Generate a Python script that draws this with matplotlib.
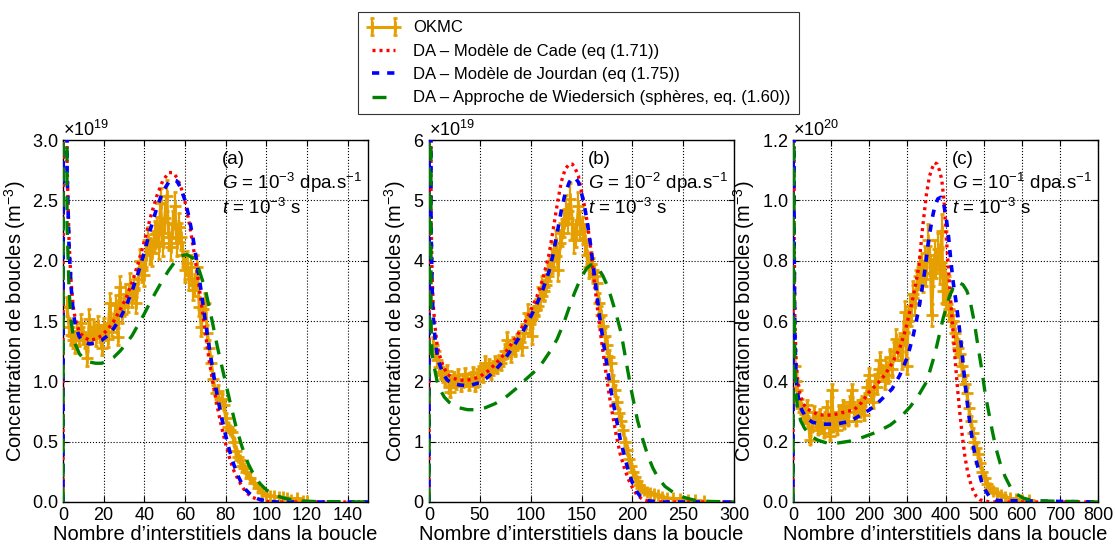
import matplotlib
matplotlib.use("Agg")
import matplotlib.pyplot as plt
from matplotlib.ticker import ScalarFormatter, MultipleLocator
import numpy as np

plt.rcParams['font.family'] = ['Liberation Sans', 'DejaVu Sans']
plt.rcParams['mathtext.fontset'] = 'custom'
plt.rcParams['mathtext.rm'] = 'Liberation Sans'
plt.rcParams['mathtext.it'] = 'Liberation Sans:italic'
plt.rcParams['mathtext.bf'] = 'Liberation Sans:bold'

# ---------------- Panel (a) : G = 1e-3 dpa/s, values in 1e19 m^-3 ----------------
a_okmc_n = [2, 3, 4, 5, 6, 7, 8, 9, 10, 11, 12, 13, 14, 15, 16, 17, 18, 19, 20, 21,
            22, 23, 24, 25, 26, 27, 28, 29, 30, 31, 32, 33, 34, 35, 36, 37, 38, 39, 40, 41,
            42, 43, 44, 45, 46, 47, 48, 49, 50, 51, 52, 53, 54, 55, 56, 57, 58, 59, 60, 61,
            62, 63, 64, 65, 66, 67, 68, 69, 70, 71, 72, 73, 74, 75, 76, 77, 78, 79, 80, 81,
            82, 83, 84, 85, 86, 87, 88, 89, 90, 92, 94, 96, 98, 100, 102, 104, 106, 108, 110, 112,
            115, 118, 120]
a_okmc_c = [1.62, 1.45, 1.38, 1.34, 1.30, 1.42, 1.36, 1.48, 1.38, 1.34, 1.19, 1.52, 1.38, 1.42, 1.36, 1.47, 1.40, 1.28, 1.45, 1.41,
            1.35, 1.65, 1.45, 1.48, 1.63, 1.37, 1.78, 1.56, 1.62, 1.72, 1.66, 1.81, 1.70, 1.77, 1.65, 1.85, 2.00, 1.92, 1.88, 2.05,
            2.17, 2.08, 2.06, 2.22, 2.25, 2.12, 2.48, 2.15, 2.35, 2.54, 2.20, 2.11, 2.30, 2.45, 2.15, 2.28, 2.20, 2.05, 1.92, 1.98,
            1.85, 1.95, 1.76, 1.80, 1.95, 1.62, 1.45, 1.60, 1.65, 1.40, 1.28, 1.15, 1.02, 0.90, 0.92, 0.82, 0.85, 0.80, 0.70, 0.62,
            0.60, 0.58, 0.50, 0.42, 0.37, 0.35, 0.30, 0.28, 0.25, 0.20, 0.16, 0.12, 0.08, 0.06, 0.05, 0.05, 0.04, 0.04, 0.03, 0.02,
            0.03, 0.01, 0.005]

a_cade_n = [0, 1, 2, 3, 4, 5, 6, 8, 10, 13, 16, 19, 22, 25, 28, 31, 34, 37, 40, 43,
            46, 49, 52, 54, 56, 58, 60, 62, 64, 66, 68, 70, 72, 74, 76, 78, 80, 82, 84, 86,
            88, 90, 93, 96, 100, 105, 150]
a_cade_c = [0, 20, 2.8, 2.15, 1.82, 1.62, 1.52, 1.41, 1.37, 1.34, 1.35, 1.38, 1.43, 1.50, 1.59, 1.69, 1.82, 1.98, 2.16, 2.36,
            2.53, 2.66, 2.73, 2.73, 2.69, 2.61, 2.49, 2.32, 2.12, 1.90, 1.65, 1.40, 1.16, 0.96, 0.78, 0.62, 0.48, 0.36, 0.26, 0.19,
            0.13, 0.08, 0.04, 0.02, 0.005, 0.0, 0.0]

a_jourdan_n = a_cade_n
a_jourdan_c = [0, 20, 2.75, 2.1, 1.78, 1.58, 1.47, 1.37, 1.33, 1.31, 1.32, 1.34, 1.38, 1.44, 1.52, 1.62, 1.75, 1.90, 2.07, 2.26,
               2.43, 2.57, 2.65, 2.67, 2.66, 2.60, 2.50, 2.36, 2.18, 1.97, 1.74, 1.50, 1.27, 1.06, 0.87, 0.70, 0.55, 0.42, 0.31, 0.22,
               0.15, 0.10, 0.05, 0.025, 0.008, 0.0, 0.0]

a_wied_n = [0, 1, 2, 3, 4, 5, 6, 8, 10, 13, 16, 19, 22, 25, 28, 31, 34, 37, 40, 43,
            46, 49, 52, 55, 58, 61, 64, 67, 70, 73, 76, 79, 82, 85, 88, 91, 94, 97, 100, 104,
            108, 112, 118, 125, 150]
a_wied_c = [0, 20, 2.3, 1.75, 1.5, 1.38, 1.31, 1.23, 1.19, 1.16, 1.15, 1.15, 1.17, 1.20, 1.25, 1.31, 1.38, 1.47, 1.56, 1.66,
            1.75, 1.84, 1.92, 1.99, 2.04, 2.05, 2.02, 1.92, 1.76, 1.53, 1.28, 1.06, 0.84, 0.63, 0.46, 0.32, 0.22, 0.15, 0.10, 0.06,
            0.035, 0.02, 0.008, 0.003, 0.0]

# ---------------- Panel (b) : G = 1e-2 dpa/s, values in 1e19 m^-3 ----------------
b_okmc_n = [4, 6, 8, 10, 12, 14, 16, 18, 20, 21, 23, 25, 27, 29, 31, 33, 35, 37, 39, 41,
            43, 45, 47, 49, 51, 53, 55, 57, 59, 61, 63, 65, 67, 69, 71, 73, 75, 77, 79, 81,
            83, 85, 87, 89, 91, 93, 95, 97, 99, 101, 103, 105, 107, 109, 111, 113, 115, 117, 119, 121,
            123, 125, 127, 129, 131, 133, 135, 137, 139, 141, 143, 145, 147, 149, 151, 153, 155, 157, 159, 161,
            163, 165, 167, 169, 171, 173, 175, 177, 179, 181, 183, 185, 187, 189, 191, 193, 195, 197, 199, 201,
            203, 205, 207, 209, 211, 214, 217, 221, 225, 229, 234, 240, 247, 255, 262, 270]
b_okmc_c = [2.6, 2.5, 2.35, 2.24, 2.15, 2.1, 2.05, 2.17, 1.9, 1.83, 2.0, 2.05, 1.98, 2.1, 1.93, 2.0, 2.12, 2.02, 1.95, 2.05,
            2.13, 1.93, 2.0, 2.15, 2.2, 2.1, 2.3, 2.2, 2.25, 2.15, 2.22, 2.3, 2.25, 2.32, 2.3, 2.38, 2.5, 2.69, 2.55, 2.45,
            2.6, 2.55, 2.65, 2.7, 2.57, 2.8, 2.95, 3.13, 3.0, 2.75, 3.1, 3.2, 3.25, 3.35, 3.56, 3.5, 3.6, 3.75, 3.85, 4.0,
            4.1, 4.3, 3.85, 4.3, 4.46, 4.62, 4.84, 4.7, 5.03, 4.6, 4.34, 4.45, 4.9, 4.6, 4.5, 4.35, 4.1, 3.9, 3.95, 3.85,
            3.75, 3.63, 3.3, 3.1, 2.92, 2.75, 2.6, 2.4, 2.3, 2.0, 1.85, 1.65, 1.47, 1.35, 1.2, 1.0, 0.86, 0.72, 0.6, 0.5,
            0.42, 0.35, 0.28, 0.23, 0.2, 0.17, 0.15, 0.13, 0.11, 0.09, 0.07, 0.06, 0.05, 0.035, 0.025, 0.015]

b_cade_n = [0, 1, 2, 3, 4, 6, 8, 10, 14, 18, 24, 30, 36, 42, 50, 58, 66, 74, 82, 90,
            98, 106, 112, 118, 122, 126, 130, 134, 138, 141, 144, 147, 150, 153, 156, 159, 162, 165, 168, 171,
            174, 177, 180, 184, 188, 192, 196, 200, 204, 208, 212, 216, 222, 230, 300]
b_cade_c = [0, 30, 4.8, 3.8, 3.3, 2.9, 2.6, 2.45, 2.25, 2.12, 2.05, 2.02, 2.02, 2.03, 2.08, 2.17, 2.3, 2.45, 2.64, 2.85,
            3.1, 3.4, 3.7, 4.1, 4.5, 4.92, 5.3, 5.52, 5.6, 5.6, 5.52, 5.4, 5.15, 4.9, 4.6, 4.2, 3.75, 3.3, 2.9, 2.5,
            2.15, 1.8, 1.5, 1.12, 0.8, 0.57, 0.38, 0.24, 0.13, 0.07, 0.03, 0.015, 0.005, 0.0, 0.0]

b_jourdan_n = b_cade_n
b_jourdan_c = [0, 30, 4.6, 3.6, 3.1, 2.7, 2.45, 2.3, 2.12, 2.02, 1.96, 1.94, 1.93, 1.94, 1.98, 2.07, 2.2, 2.36, 2.55, 2.76,
               3.0, 3.28, 3.52, 3.82, 4.1, 4.45, 4.82, 5.12, 5.3, 5.37, 5.37, 5.3, 5.12, 4.9, 4.6, 4.25, 3.85, 3.45, 3.05, 2.7,
               2.38, 2.05, 1.75, 1.4, 1.05, 0.78, 0.52, 0.32, 0.18, 0.09, 0.04, 0.02, 0.008, 0.0, 0.0]

b_wied_n = [0, 1, 2, 3, 5, 8, 11, 15, 20, 25, 30, 38, 46, 55, 65, 75, 85, 95, 105, 112,
            120, 126, 132, 137, 143, 149, 155, 159, 163, 167, 171, 175, 179, 184, 189, 194, 199, 205, 210, 215,
            220, 225, 232, 241, 250, 261, 275, 300]
b_wied_c = [0, 30, 3.0, 2.45, 2.25, 2.0, 1.86, 1.74, 1.65, 1.59, 1.56, 1.53, 1.53, 1.56, 1.63, 1.73, 1.87, 2.03, 2.18, 2.32,
            2.52, 2.7, 2.94, 3.18, 3.46, 3.7, 3.87, 3.93, 3.93, 3.86, 3.75, 3.6, 3.4, 3.12, 2.8, 2.32, 1.85, 1.36, 1.05, 0.78,
            0.57, 0.41, 0.26, 0.15, 0.08, 0.03, 0.01, 0.0]

# ---------------- Panel (c) : G = 1e-1 dpa/s, values in 1e20 m^-3 ----------------
c_okmc_n = [5, 8, 10, 14, 18, 22, 27, 32, 36, 40, 45, 50, 55, 60, 65, 70, 75, 80, 85, 89,
            94, 98, 102, 106, 110, 115, 120, 125, 130, 135, 140, 145, 150, 155, 160, 165, 170, 175, 180, 185,
            190, 195, 200, 205, 210, 215, 220, 225, 229, 234, 240, 245, 250, 255, 260, 265, 270, 275, 280, 285,
            290, 294, 298, 302, 306, 310, 315, 320, 325, 330, 333, 338, 342, 346, 350, 355, 360, 364, 368, 372,
            376, 380, 385, 390, 394, 398, 401, 405, 410, 415, 420, 425, 430, 434, 438, 442, 446, 450, 456, 461,
            466, 471, 476, 481, 486, 491, 497, 503, 510, 517, 525, 535, 545, 555, 570, 585, 600, 620]
c_okmc_c = [0.45, 0.4, 0.37, 0.34, 0.32, 0.31, 0.3, 0.28, 0.32, 0.27, 0.205, 0.25, 0.3, 0.27, 0.24, 0.29, 0.25, 0.23, 0.28, 0.315,
            0.26, 0.22, 0.37, 0.25, 0.28, 0.24, 0.3, 0.27, 0.32, 0.26, 0.3, 0.27, 0.33, 0.37, 0.3, 0.27, 0.32, 0.3, 0.33, 0.29,
            0.34, 0.38, 0.42, 0.36, 0.33, 0.4, 0.38, 0.44, 0.47, 0.43, 0.4, 0.45, 0.42, 0.48, 0.44, 0.5, 0.54, 0.5, 0.52, 0.47,
            0.56, 0.63, 0.45, 0.6, 0.65, 0.62, 0.69, 0.66, 0.72, 0.75, 0.77, 0.78, 0.74, 0.8, 0.76, 0.87, 0.8, 0.62, 0.76, 0.82,
            0.79, 0.84, 0.77, 0.9, 0.7, 0.75, 0.66, 0.7, 0.64, 0.62, 0.6, 0.56, 0.53, 0.51, 0.49, 0.45, 0.42, 0.39, 0.36, 0.31,
            0.27, 0.23, 0.2, 0.18, 0.16, 0.13, 0.1, 0.08, 0.06, 0.045, 0.035, 0.03, 0.022, 0.018, 0.012, 0.01, 0.008, 0.006]

c_cade_n = [0, 1, 3, 5, 8, 12, 18, 25, 35, 50, 65, 80, 100, 120, 140, 160, 180, 200, 220, 240,
            260, 280, 295, 310, 320, 330, 340, 350, 358, 366, 372, 378, 384, 390, 396, 402, 408, 414, 420, 426,
            432, 438, 444, 451, 458, 465, 472, 480, 490, 500, 520, 800]
c_cade_c = [0, 3, 0.9, 0.6, 0.47, 0.41, 0.36, 0.33, 0.31, 0.3, 0.29, 0.288, 0.288, 0.293, 0.3, 0.305, 0.33, 0.365, 0.39, 0.42,
            0.46, 0.51, 0.57, 0.65, 0.71, 0.78, 0.91, 1.02, 1.08, 1.11, 1.125, 1.12, 1.1, 1.07, 1.0, 0.88, 0.77, 0.66, 0.56, 0.46,
            0.37, 0.29, 0.22, 0.15, 0.1, 0.066, 0.04, 0.02, 0.008, 0.003, 0.0, 0.0]

c_jourdan_n = [0, 1, 3, 5, 8, 12, 18, 25, 35, 50, 65, 80, 100, 120, 140, 160, 180, 200, 220, 240,
               260, 280, 300, 315, 330, 345, 355, 365, 372, 380, 388, 395, 402, 408, 414, 420, 428, 436, 443, 450,
               457, 464, 471, 478, 486, 495, 504, 515, 535, 800]
c_jourdan_c = [0, 3, 0.85, 0.55, 0.42, 0.36, 0.32, 0.3, 0.28, 0.265, 0.26, 0.258, 0.258, 0.26, 0.265, 0.275, 0.29, 0.305, 0.325, 0.35,
               0.375, 0.42, 0.48, 0.55, 0.64, 0.76, 0.86, 0.94, 0.98, 1.005, 1.01, 0.99, 0.94, 0.88, 0.8, 0.73, 0.66, 0.58, 0.5, 0.41,
               0.33, 0.26, 0.2, 0.15, 0.11, 0.065, 0.04, 0.018, 0.005, 0.0]

c_wied_n = [0, 1, 3, 5, 8, 12, 20, 30, 45, 65, 85, 100, 120, 150, 184, 220, 255, 285, 307, 330,
            351, 372, 394, 410, 420, 432, 446, 456, 464, 475, 486, 495, 504, 513, 522, 532, 543, 556, 570, 585,
            604, 630, 800]
c_wied_c = [0, 3, 0.7, 0.45, 0.36, 0.31, 0.27, 0.245, 0.22, 0.205, 0.197, 0.195, 0.196, 0.202, 0.215, 0.232, 0.255, 0.285, 0.315, 0.355,
            0.4, 0.49, 0.61, 0.68, 0.71, 0.73, 0.72, 0.7, 0.67, 0.6, 0.51, 0.44, 0.36, 0.3, 0.24, 0.18, 0.13, 0.085, 0.05, 0.027,
            0.013, 0.004, 0.0]

panel_labels = ['(a)', '(b)', '(c)']
G_exponents = ['-3', '-2', '-1']
scales = [1e19, 1e19, 1e20]
xmax = [150, 300, 800]
ymax = [3.0, 6.0, 1.2]
ystep = [0.5, 1.0, 0.2]
xstep = [20, 50, 100]
rel_err = [0.05, 0.05, 0.06]

legend_labels = ['OKMC',
                 'DA – Modèle de Cade (eq (1.71))',
                 'DA – Modèle de Jourdan (eq (1.75))',
                 'DA – Approche de Wiedersich (sphères, eq. (1.60))']

panels = [
    (a_okmc_n, a_okmc_c, a_cade_n, a_cade_c, a_jourdan_n, a_jourdan_c, a_wied_n, a_wied_c),
    (b_okmc_n, b_okmc_c, b_cade_n, b_cade_c, b_jourdan_n, b_jourdan_c, b_wied_n, b_wied_c),
    (c_okmc_n, c_okmc_c, c_cade_n, c_cade_c, c_jourdan_n, c_jourdan_c, c_wied_n, c_wied_c),
]

ORANGE = '#E69F00'
fig = plt.figure(figsize=(11.15, 5.48), dpi=100)
lefts = [63 / 1115, 429 / 1115, 793 / 1115]
width = 305 / 1115
bottom = 1 - 502 / 548
height = 362 / 548

handles = None
for i, (on, oc, cn, cc, jn, jc, wn, wc) in enumerate(panels):
    ax = fig.add_axes([lefts[i], bottom, width, height])
    s = scales[i]
    oc_arr = np.array(oc) * s
    eb = ax.errorbar(on, oc_arr, yerr=oc_arr * rel_err[i], color=ORANGE, marker='+', ms=8, mew=2,
                     lw=2.2, elinewidth=1.6, capsize=1.5, capthick=1.4, zorder=2)
    l1, = ax.plot(cn, np.array(cc) * s, color='#FF0000', lw=2.4, linestyle=(0, (0.9, 1.2)), zorder=3)
    l2, = ax.plot(jn, np.array(jc) * s, color='#0000FF', lw=2.6, linestyle=(0, (2.0, 2.2)), zorder=4)
    l3, = ax.plot(wn, np.array(wc) * s, color='#008000', lw=2.4, linestyle=(0, (4.2, 3.2)), zorder=5)
    if handles is None:
        handles = [eb, l1, l2, l3]
    ax.set_xlim(0, xmax[i])
    ax.set_ylim(0, ymax[i] * s)
    ax.xaxis.set_major_locator(MultipleLocator(xstep[i]))
    ax.yaxis.set_major_locator(MultipleLocator(ystep[i] * s))
    fmt = ScalarFormatter(useMathText=True)
    ax.yaxis.set_major_formatter(fmt)
    ax.yaxis.get_offset_text().set_fontsize(13)
    ax.grid(True, color='k', linestyle=':', lw=0.8)
    ax.set_axisbelow(True)
    ax.tick_params(direction='in', top=True, right=True, length=4, width=0.8, labelsize=13)
    for sp in ax.spines.values():
        sp.set_linewidth(1.0)
    ax.set_xlabel('Nombre d’interstitiels dans la boucle', fontsize=14.5, labelpad=1)
    ax.set_ylabel('Concentration de boucles (m$^{-3}$)', fontsize=14.5, labelpad=3)
    ax.text(0.522, 0.945, panel_labels[i], transform=ax.transAxes, fontsize=13.5, va='center', ha='left')
    ax.text(0.522, 0.881, '$G$ = 10$^{' + G_exponents[i] + '}$ dpa.s$^{-1}$', transform=ax.transAxes,
            fontsize=13.5, va='center', ha='left')
    ax.text(0.522, 0.812, '$t$ = 10$^{-3}$ s', transform=ax.transAxes, fontsize=13.5, va='center', ha='left')

leg = fig.legend(handles, legend_labels, loc='upper center', bbox_to_anchor=(0.519, 0.978),
                 borderaxespad=0, fontsize=12, frameon=True, fancybox=False, edgecolor='k',
                 handlelength=2.0, numpoints=2, borderpad=0.5, labelspacing=0.5)
leg.get_frame().set_linewidth(0.8)

fig.savefig('out.png', dpi=100)
